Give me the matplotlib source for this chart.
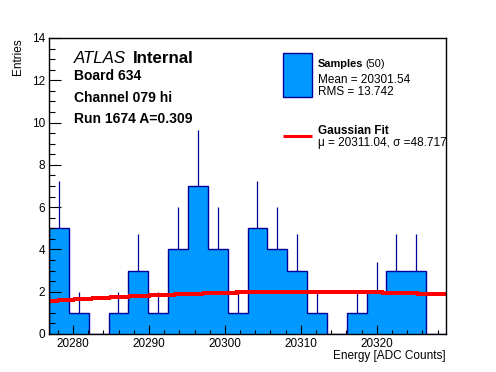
import numpy as np
import matplotlib.pyplot as plt
from matplotlib.ticker import MultipleLocator
from matplotlib.patches import Rectangle
from matplotlib.lines import Line2D

plt.rcParams["font.family"] = ["Liberation Sans", "DejaVu Sans"]

# histogram: 20 equal bins between x_lo and x_hi
x_lo = 20276.85
x_hi = 20329.10
counts = np.array([5, 1, 0, 1, 3, 1, 4, 7, 4, 1, 5, 4, 3, 1, 0, 1, 2, 3, 3, 0])

# gaussian fit curve
fit_x = [20276.85, 20281, 20285, 20290, 20295, 20300, 20305, 20311, 20316, 20320, 20325, 20329.1]
fit_y = [1.56, 1.65, 1.73, 1.82, 1.89, 1.95, 1.99, 2.00, 1.99, 1.97, 1.92, 1.87]

n_samples = 50
mean = "20301.54"
rms = "13.742"
mu = "20311.04"
sigma = "48.717"

W, H = 496, 372
fill = "#0099ff"
navy = "#000099"

def fx(px):
    return px / W

def fy(py):
    return 1 - py / H

fig = plt.figure(figsize=(W / 100, H / 100), dpi=100)
ax = fig.add_axes([fx(49), fy(334), 397 / W, 296 / H])

edges = np.linspace(x_lo, x_hi, len(counts) + 1)
centers = 0.5 * (edges[1:] + edges[:-1])
ax.stairs(counts, edges, fill=True, color=fill, lw=0)
ax.stairs(counts, edges, fill=False, color=navy, lw=1.0)
nz = counts > 0
ax.vlines(centers[nz], counts[nz], counts[nz] + np.sqrt(counts[nz]), color=navy, lw=0.9)
ax.plot(fit_x, fit_y, color="red", lw=2.2, antialiased=False, solid_capstyle="butt")

ax.set_xlim(x_lo, x_hi)
ax.set_ylim(0, 14)
ax.xaxis.set_major_locator(MultipleLocator(10))
ax.xaxis.set_minor_locator(MultipleLocator(2))
ax.yaxis.set_major_locator(MultipleLocator(2))
ax.yaxis.set_minor_locator(MultipleLocator(0.5))
ax.tick_params(which="both", direction="in", top=False, right=False, labelsize=8.5, width=0.8)
ax.tick_params(axis="x", which="major", length=6.4, pad=3)
ax.tick_params(axis="x", which="minor", length=3.2)
ax.tick_params(axis="y", which="major", length=8.6, pad=3)
ax.tick_params(axis="y", which="minor", length=4.3)
for s in ax.spines.values():
    s.set_linewidth(1.0)

fig.text(fx(18.5), fy(38), "Entries", rotation=90, ha="center", va="top", fontsize=8.5)
fig.text(fx(446), fy(356), "Energy [ADC Counts]", ha="right", va="center", fontsize=8.5)

# labels
fig.text(fx(74.3), fy(63.4), "ATLAS", fontsize=12.2, style="italic", va="baseline")
fig.text(fx(133.3), fy(63.4), "Internal", fontsize=12.2, weight="bold", va="baseline")
fig.text(fx(74.3), fy(80.5), "Board 634", fontsize=10, weight="bold", va="baseline")
fig.text(fx(74.3), fy(101.5), "Channel 079 hi", fontsize=10, weight="bold", va="baseline")
fig.text(fx(74.3), fy(122.5), "Run 1674 A=0.309", fontsize=10, weight="bold", va="baseline")

# legend
fig.patches.append(Rectangle((fx(282.7), fy(96.7)), 29 / W, 43.4 / H, transform=fig.transFigure,
                             facecolor=fill, edgecolor=navy, lw=1.0))
fig.lines.append(Line2D([fx(282.7), fx(311.7)], [fy(136), fy(136)], transform=fig.transFigure,
                        color="red", lw=2.2, solid_capstyle="butt"))
t = fig.text(fx(317.5), fy(66.7), "Samples", fontsize=7.9, weight="bold", va="baseline")
fig.canvas.draw()
bb = t.get_window_extent()
fig.text(fx(bb.x1 + 3), fy(66.7), f"({n_samples})", fontsize=7.9, va="baseline")
fig.text(fx(317.5), fy(83.3), f"Mean = {mean}", fontsize=8.5, va="baseline")
fig.text(fx(317.5), fy(95), f"RMS = {rms}", fontsize=8.5, va="baseline")
fig.text(fx(317.5), fy(133.7), "Gaussian Fit", fontsize=8.5, weight="bold", va="baseline")
fig.text(fx(317.5), fy(146.3), f"\u03bc = {mu}, \u03c3 ={sigma}", fontsize=8.5, va="baseline")

fig.savefig("out.png", dpi=100)
